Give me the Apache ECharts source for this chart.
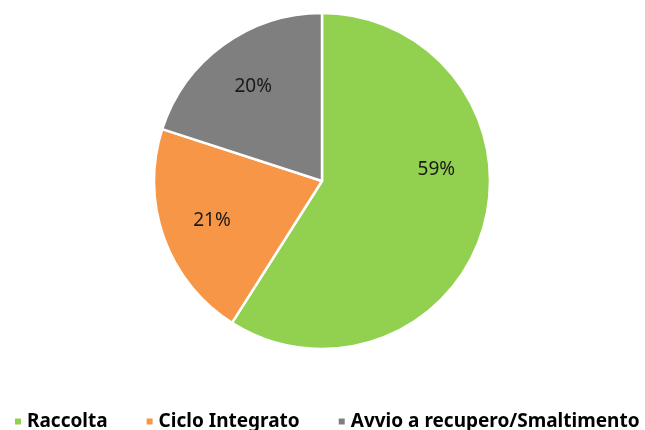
<!DOCTYPE html>
<html>
<head>
<meta charset="utf-8">
<script src="https://cdn.jsdelivr.net/npm/echarts@6/dist/echarts.min.js"></script>
<style>
  html, body { margin: 0; padding: 0; background: #fff; }
  #chart { width: 645px; height: 430px; }
</style>
</head>
<body>
<div id="chart"></div>
<script>
var categories = ["Raccolta", "Ciclo Integrato", "Avvio a recupero/Smaltimento"];
var values = [59, 21, 20];
var colors = ["#92D050", "#F79646", "#7F7F7F"];

var sliceData = [];
var labelData = [];
for (var i = 0; i < categories.length; i++) {
    sliceData.push({
        name: categories[i],
        value: values[i],
        itemStyle: { color: colors[i] }
    });
    var lab = { name: categories[i], value: values[i] };
    // Excel's best-fit label for the big slice sits higher than its mid angle
    if (i === 0) {
        lab.label = { offset: [2, -44] };
    }
    labelData.push(lab);
}

var myChart = echarts.init(document.getElementById("chart"));

var option = {
    animation: false,
    legend: {
        data: categories,
        left: 13,
        top: 412,
        padding: 0,
        icon: 'rect',
        itemWidth: 8,
        itemHeight: 8,
        itemGap: 37,
        textStyle: {
            fontFamily: 'Noto Sans',
            fontSize: 19,
            fontWeight: 'bold',
            color: '#000'
        }
    },
    series: [{
        type: 'pie',
        center: [322, 181],
        radius: 168,
        startAngle: 90,
        clockwise: true,
        itemStyle: {
            borderColor: '#fff',
            borderWidth: 2.5
        },
        label: { show: false },
        labelLine: { show: false },
        emphasis: { disabled: true },
        data: sliceData
    }, {
        // transparent ring, only used to put the labels at ~2/3 of the radius
        type: 'pie',
        center: [322, 181],
        radius: [60, 168],
        startAngle: 90,
        clockwise: true,
        silent: true,
        legendHoverLink: false,
        itemStyle: { color: 'rgba(0,0,0,0)' },
        label: {
            show: true,
            position: 'inside',
            formatter: '{c}%',
            fontFamily: 'Noto Sans',
            fontSize: 19,
            color: '#1a1a1a'
        },
        labelLine: { show: false },
        emphasis: { disabled: true },
        data: labelData
    }]
};

myChart.setOption(option);
window.addEventListener("resize", function () {
    myChart.resize();
});
</script>
</body>
</html>
